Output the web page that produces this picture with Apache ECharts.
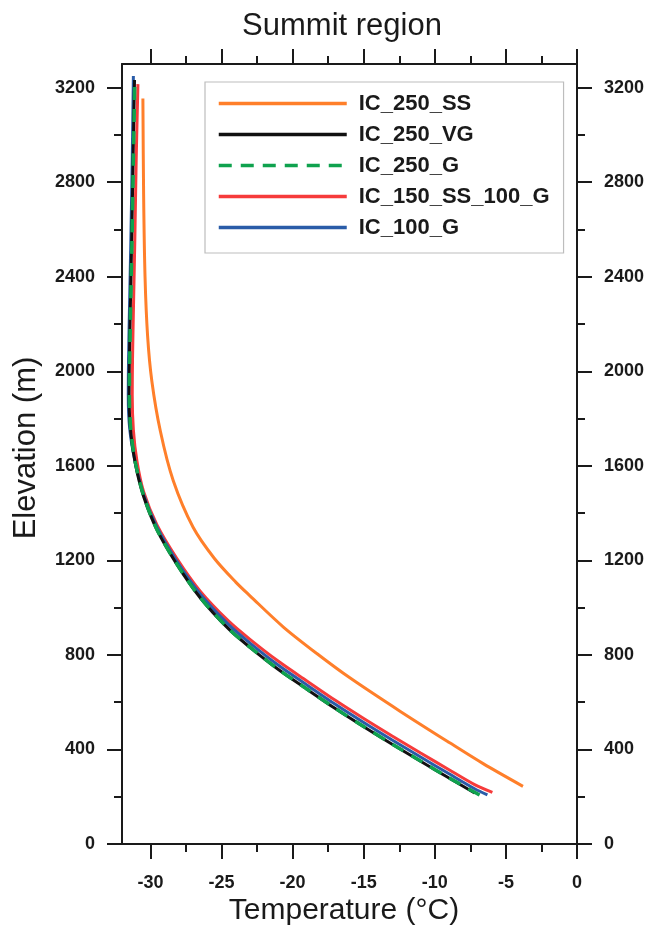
<!DOCTYPE html>
<html>
<head>
<meta charset="utf-8">
<script src="https://cdn.jsdelivr.net/npm/echarts@6/dist/echarts.min.js"></script>
<style>
  html, body { margin: 0; padding: 0; background: #fff; }
  #chart { width: 650px; height: 931px; }
</style>
</head>
<body>
<div id="chart"></div>
<script>
// Temperature profiles (°C) against elevation (m), listed from the bottom of the ice column up.
const seriesNames = ['IC_250_SS', 'IC_250_VG', 'IC_250_G', 'IC_150_SS_100_G', 'IC_100_G'];

const ic250SS = [
  [-3.8, 244], [-6.6, 340], [-8.95, 428], [-12.45, 562], [-15.95, 702], [-18.3, 806],
  [-20.65, 918], [-23.0, 1050], [-24.0, 1108], [-25.5, 1208], [-27.0, 1340], [-28.4, 1538],
  [-29.3, 1746], [-29.9, 1958], [-30.2, 2150], [-30.38, 2400], [-30.48, 2750], [-30.53, 3154]
];
const ic250VG = [
  [-7.2, 216], [-9, 279], [-11, 350], [-13, 422], [-15, 496], [-17, 573], [-19, 655],
  [-21, 738], [-23, 832], [-24.5, 910], [-26.5, 1042], [-28.14, 1183], [-29.54, 1329],
  [-30.48, 1470], [-31.07, 1611], [-31.4, 1752], [-31.5, 1900], [-31.48, 2050],
  [-31.42, 2250], [-31.32, 2550], [-31.22, 2900], [-31.12, 3232]
];
const ic250G = [
  [-6.85, 207], [-9, 280], [-11, 351], [-13, 423], [-15, 497], [-17, 574], [-19, 656],
  [-21, 739], [-23, 833], [-24.5, 911], [-26.5, 1043], [-28.14, 1184], [-29.54, 1330],
  [-30.46, 1470], [-31.05, 1611], [-31.38, 1752], [-31.48, 1900], [-31.46, 2050],
  [-31.4, 2250], [-31.3, 2550], [-31.2, 2900], [-31.1, 3225]
];
const ic150SS100G = [
  [-5.95, 218], [-7.2, 251], [-9, 314], [-11, 385], [-13, 457], [-15, 531], [-17, 608],
  [-19, 690], [-21, 773], [-23, 866], [-24.5, 943], [-26.5, 1070], [-28.14, 1208],
  [-29.54, 1350], [-30.48, 1490], [-30.95, 1620], [-31.2, 1752], [-31.28, 1900],
  [-31.26, 2050], [-31.2, 2250], [-31.1, 2550], [-31.0, 2900], [-30.88, 3215]
];
const ic100G = [
  [-6.3, 208], [-7.2, 234], [-9, 297], [-11, 368], [-13, 440], [-15, 514], [-17, 591],
  [-19, 673], [-21, 756], [-23, 850], [-24.5, 928], [-26.5, 1058], [-28.14, 1196],
  [-29.54, 1340], [-30.48, 1478], [-31.07, 1615], [-31.45, 1752], [-31.56, 1900],
  [-31.54, 2050], [-31.48, 2250], [-31.38, 2550], [-31.28, 2900], [-31.2, 3249]
];

// Axis ticks
const tempMajorTicks = [-30, -25, -20, -15, -10, -5, 0];
const tempMinorTicks = [-27.5, -22.5, -17.5, -12.5, -7.5, -2.5];
const elevMajorTicks = [0, 400, 800, 1200, 1600, 2000, 2400, 2800, 3200];
const elevMinorTicks = [200, 600, 1000, 1400, 1800, 2200, 2600, 3000];

const chart = echarts.init(document.getElementById('chart'), null, { renderer: 'canvas' });

const FONT = 'Liberation Sans, Arial, sans-serif';
const INK = '#1a1a1a';
const axisLineStyle = { color: INK, width: 2 };
const plainNumber = function (v) { return String(v); };

function xAxisDef(position, ticks, len, labels, showLine) {
  return {
    type: 'value', position: position, min: -32, max: 0,
    axisLine: { show: showLine, onZero: false, lineStyle: axisLineStyle },
    axisTick: { show: true, inside: false, length: len, customValues: ticks, lineStyle: { color: INK, width: 2 } },
    axisLabel: labels ? {
      show: true, customValues: ticks, margin: 30, color: INK, formatter: plainNumber,
      fontSize: 18, fontWeight: 'bold', fontFamily: FONT
    } : { show: false },
    splitLine: { show: false }
  };
}
function yAxisDef(position, ticks, len, labels, showLine) {
  return {
    type: 'value', position: position, min: 0, max: 3300,
    axisLine: { show: showLine, onZero: false, lineStyle: axisLineStyle },
    axisTick: { show: true, inside: false, length: len, customValues: ticks, lineStyle: { color: INK, width: 2 } },
    axisLabel: labels ? {
      show: true, customValues: ticks, margin: 27, color: INK, formatter: plainNumber,
      fontSize: 18, fontWeight: 'bold', fontFamily: FONT
    } : { show: false },
    splitLine: { show: false }
  };
}

const colors = ['#ff7f2a', '#111111', '#0fa24e', '#f63b3b', '#2a5ca8'];
const datasets = [ic250SS, ic250VG, ic250G, ic150SS100G, ic100G];
// drawing order: orange, red, blue, black, green dashed on top
const drawOrder = [0, 3, 4, 1, 2];

const series = drawOrder.map(function (i) {
  return {
    name: seriesNames[i],
    type: 'line',
    xAxisIndex: 0, yAxisIndex: 0,
    data: datasets[i],
    smooth: 0.3,
    symbol: 'none',
    showSymbol: false,
    animation: false,
    z: 2 + drawOrder.indexOf(i),
    lineStyle: {
      color: colors[i],
      width: i === 2 ? 3.5 : 3,
      type: i === 2 ? [13, 9] : 'solid',
      cap: 'butt'
    },
    itemStyle: { color: colors[i] }
  };
});

chart.setOption({
  backgroundColor: '#ffffff',
  animation: false,
  grid: { left: 122, right: 73, top: 64, bottom: 87, containLabel: false },
  xAxis: [
    xAxisDef('bottom', tempMajorTicks, 15, true, true),
    xAxisDef('bottom', tempMinorTicks, 8, false, false),
    xAxisDef('top', tempMajorTicks, 15, false, true),
    xAxisDef('top', tempMinorTicks, 8, false, false)
  ],
  yAxis: [
    yAxisDef('left', elevMajorTicks, 15, true, true),
    yAxisDef('left', elevMinorTicks, 8, false, false),
    yAxisDef('right', elevMajorTicks, 15, true, true),
    yAxisDef('right', elevMinorTicks, 8, false, false)
  ],
  legend: {
    data: seriesNames,
    orient: 'vertical',
    left: 205, top: 82,
    padding: [10, 14, 14, 12],
    itemGap: 8,
    itemWidth: 128,
    itemHeight: 14,
    borderColor: '#bdbdbd',
    borderWidth: 1.2,
    backgroundColor: '#ffffff',
    selectedMode: false,
    itemStyle: { opacity: 0, borderWidth: 0 },
    lineStyle: { width: 3.5 },
    textStyle: {
      fontSize: 22, fontWeight: 'bold', color: INK, fontFamily: FONT,
      lineHeight: 23, padding: [0, 0, 0, 7]
    }
  },
  graphic: [
    {
      type: 'text', x: 342, y: 26,
      style: { text: 'Summit region', font: '31px ' + FONT, fill: INK, align: 'center', verticalAlign: 'middle' }
    },
    {
      type: 'text', x: 344, y: 911,
      style: { text: 'Temperature (°C)', font: '30px ' + FONT, fill: INK, align: 'center', verticalAlign: 'middle' }
    },
    {
      type: 'text', x: 26, y: 448, rotation: Math.PI / 2,
      style: { text: 'Elevation (m)', font: '31px ' + FONT, fill: INK, align: 'center', verticalAlign: 'middle' }
    }
  ],
  series: series
});
</script>
</body>
</html>
